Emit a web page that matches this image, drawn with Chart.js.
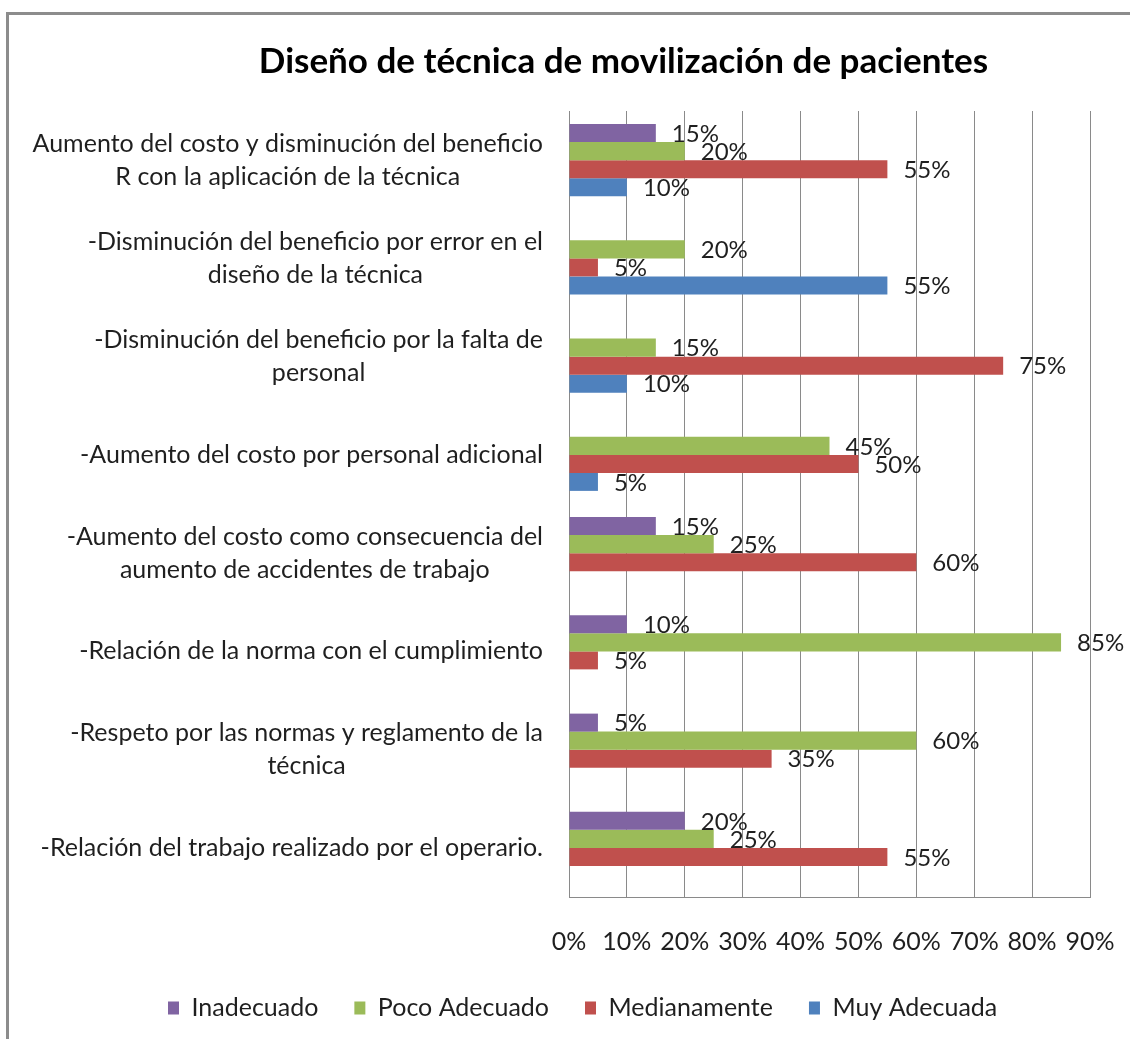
<!DOCTYPE html>
<html lang="es">
<head>
<meta charset="utf-8">
<title>Diseño de técnica de movilización de pacientes</title>
<script src="https://cdn.jsdelivr.net/npm/chart.js@4.4.1/dist/chart.umd.min.js"></script>
<style>
    body {
        margin: 0;
        background: #fff;
        overflow: hidden;
    }
    .frame {
        position: absolute;
        left: 6px;
        top: 12px;
        width: 1300px;
        height: 1200px;
        border-left: 3px solid #8c8c8c;
        border-top: 3px solid #8c8c8c;
    }
    #myChart {
        position: absolute;
        left: 0;
        top: 0;
    }
</style>
</head>
<body>
<div class="frame"></div>
<canvas id="myChart" width="1130" height="1039"></canvas>

<script>
// Categorías (de arriba hacia abajo), cada una partida en líneas
const categories = [
    ['Aumento del costo y disminución del beneficio', 'R con la aplicación de la técnica'],
    ['-Disminución del beneficio por error en el', 'diseño de la técnica'],
    ['-Disminución del beneficio por la falta de', 'personal'],
    ['-Aumento del costo por personal adicional'],
    ['-Aumento del costo como consecuencia del', 'aumento de accidentes de trabajo'],
    ['-Relación de la norma con el cumplimiento'],
    ['-Respeto por las normas y reglamento de la', 'técnica'],
    ['-Relación del trabajo realizado por el operario.']
];

const seriesNames = ['Inadecuado', 'Poco Adecuado', 'Medianamente', 'Muy Adecuada'];

// valores en %
const inadecuado   = [15, null, null, null, 15, 10, 5, 20];
const pocoAdecuado = [20, 20, 15, 45, 25, 85, 60, 25];
const medianamente = [55, 5, 75, 50, 60, 5, 35, 55];
const muyAdecuada  = [10, 55, 10, 5, null, null, null, null];

const xTicks = [0, 10, 20, 30, 40, 50, 60, 70, 80, 90];

const colors = ['#8064A2', '#9BBB59', '#C0504D', '#4F81BD'];

const FONT = 'Lato, "Open Sans", sans-serif';
const TEXT_COLOR = '#1f1f1f';

// etiquetas de valor al final de cada barra
const barLabels = {
    id: 'barLabels',
    afterDatasetsDraw(chart) {
        const ctx = chart.ctx;
        ctx.save();
        ctx.font = '24px ' + FONT;
        ctx.fillStyle = TEXT_COLOR;
        ctx.textAlign = 'left';
        ctx.textBaseline = 'middle';
        chart.data.datasets.forEach((ds, i) => {
            const meta = chart.getDatasetMeta(i);
            meta.data.forEach((bar, j) => {
                const v = ds.data[j];
                if (v === null || v === undefined) return;
                ctx.fillText(v + '%', bar.x + 16, bar.y + 1);
            });
        });
        ctx.restore();
    }
};

// etiquetas de categoría: bloque alineado a la derecha, líneas centradas entre sí
const categoryLabels = {
    id: 'categoryLabels',
    afterDraw(chart) {
        const ctx = chart.ctx;
        const yScale = chart.scales.y;
        const rightEdge = chart.chartArea.left - 26;
        const lineHeight = 33;
        ctx.save();
        ctx.font = '25px ' + FONT;
        ctx.fillStyle = TEXT_COLOR;
        ctx.textAlign = 'center';
        ctx.textBaseline = 'middle';
        categories.forEach((lines, i) => {
            const yc = yScale.getPixelForTick(i);
            const widest = Math.max(...lines.map(l => ctx.measureText(l).width));
            const xc = rightEdge - widest / 2;
            const y0 = yc - (lines.length - 1) * lineHeight / 2;
            lines.forEach((l, k) => {
                ctx.fillText(l, xc, y0 + k * lineHeight);
            });
        });
        ctx.restore();
    }
};

const ctx = document.getElementById('myChart');

const data = {
    labels: categories.map(c => c.join(' ')),
    datasets: [
        {label: seriesNames[0], data: inadecuado, backgroundColor: colors[0]},
        {label: seriesNames[1], data: pocoAdecuado, backgroundColor: colors[1]},
        {label: seriesNames[2], data: medianamente, backgroundColor: colors[2]},
        {label: seriesNames[3], data: muyAdecuada, backgroundColor: colors[3]}
    ]
};

const config = {
    type: 'bar',
    data: data,
    options: {
        indexAxis: 'y',
        responsive: false,
        animation: false,
        categoryPercentage: 0.733,
        barPercentage: 1,
        layout: {
            padding: {left: 132, right: 15, top: 0, bottom: 8.5}
        },
        scales: {
            x: {
                min: 0,
                max: 90,
                afterBuildTicks: (scale) => {
                    scale.ticks = xTicks.map(v => ({value: v}));
                },
                afterFit: (scale) => {
                    scale.height = 62.5;
                    // distancia total desde el borde derecho del lienzo
                    scale.paddingRight = 40;
                },
                grid: {
                    color: '#8a8a8a',
                    lineWidth: 1,
                    drawTicks: false
                },
                border: {color: '#8a8a8a', width: 1},
                ticks: {
                    padding: 30,
                    color: TEXT_COLOR,
                    font: {family: FONT, size: 25},
                    callback: (v) => v + '%'
                }
            },
            y: {
                afterFit: (scale) => {
                    scale.width = 569 - 132;
                },
                grid: {display: false},
                border: {color: '#8a8a8a', width: 1},
                ticks: {display: false}
            }
        },
        plugins: {
            title: {
                display: true,
                text: 'Diseño de técnica de movilización de pacientes',
                color: '#000',
                font: {family: FONT, size: 35, weight: 'bold'},
                padding: {top: 41, bottom: 28}
            },
            legend: {
                position: 'bottom',
                align: 'start',
                labels: {
                    boxWidth: 11,
                    boxHeight: 13,
                    padding: 36,
                    color: TEXT_COLOR,
                    font: {family: FONT, size: 25}
                }
            },
            tooltip: {enabled: false}
        }
    },
    plugins: [barLabels, categoryLabels]
};

new Chart(ctx, config);
</script>
</body>
</html>
